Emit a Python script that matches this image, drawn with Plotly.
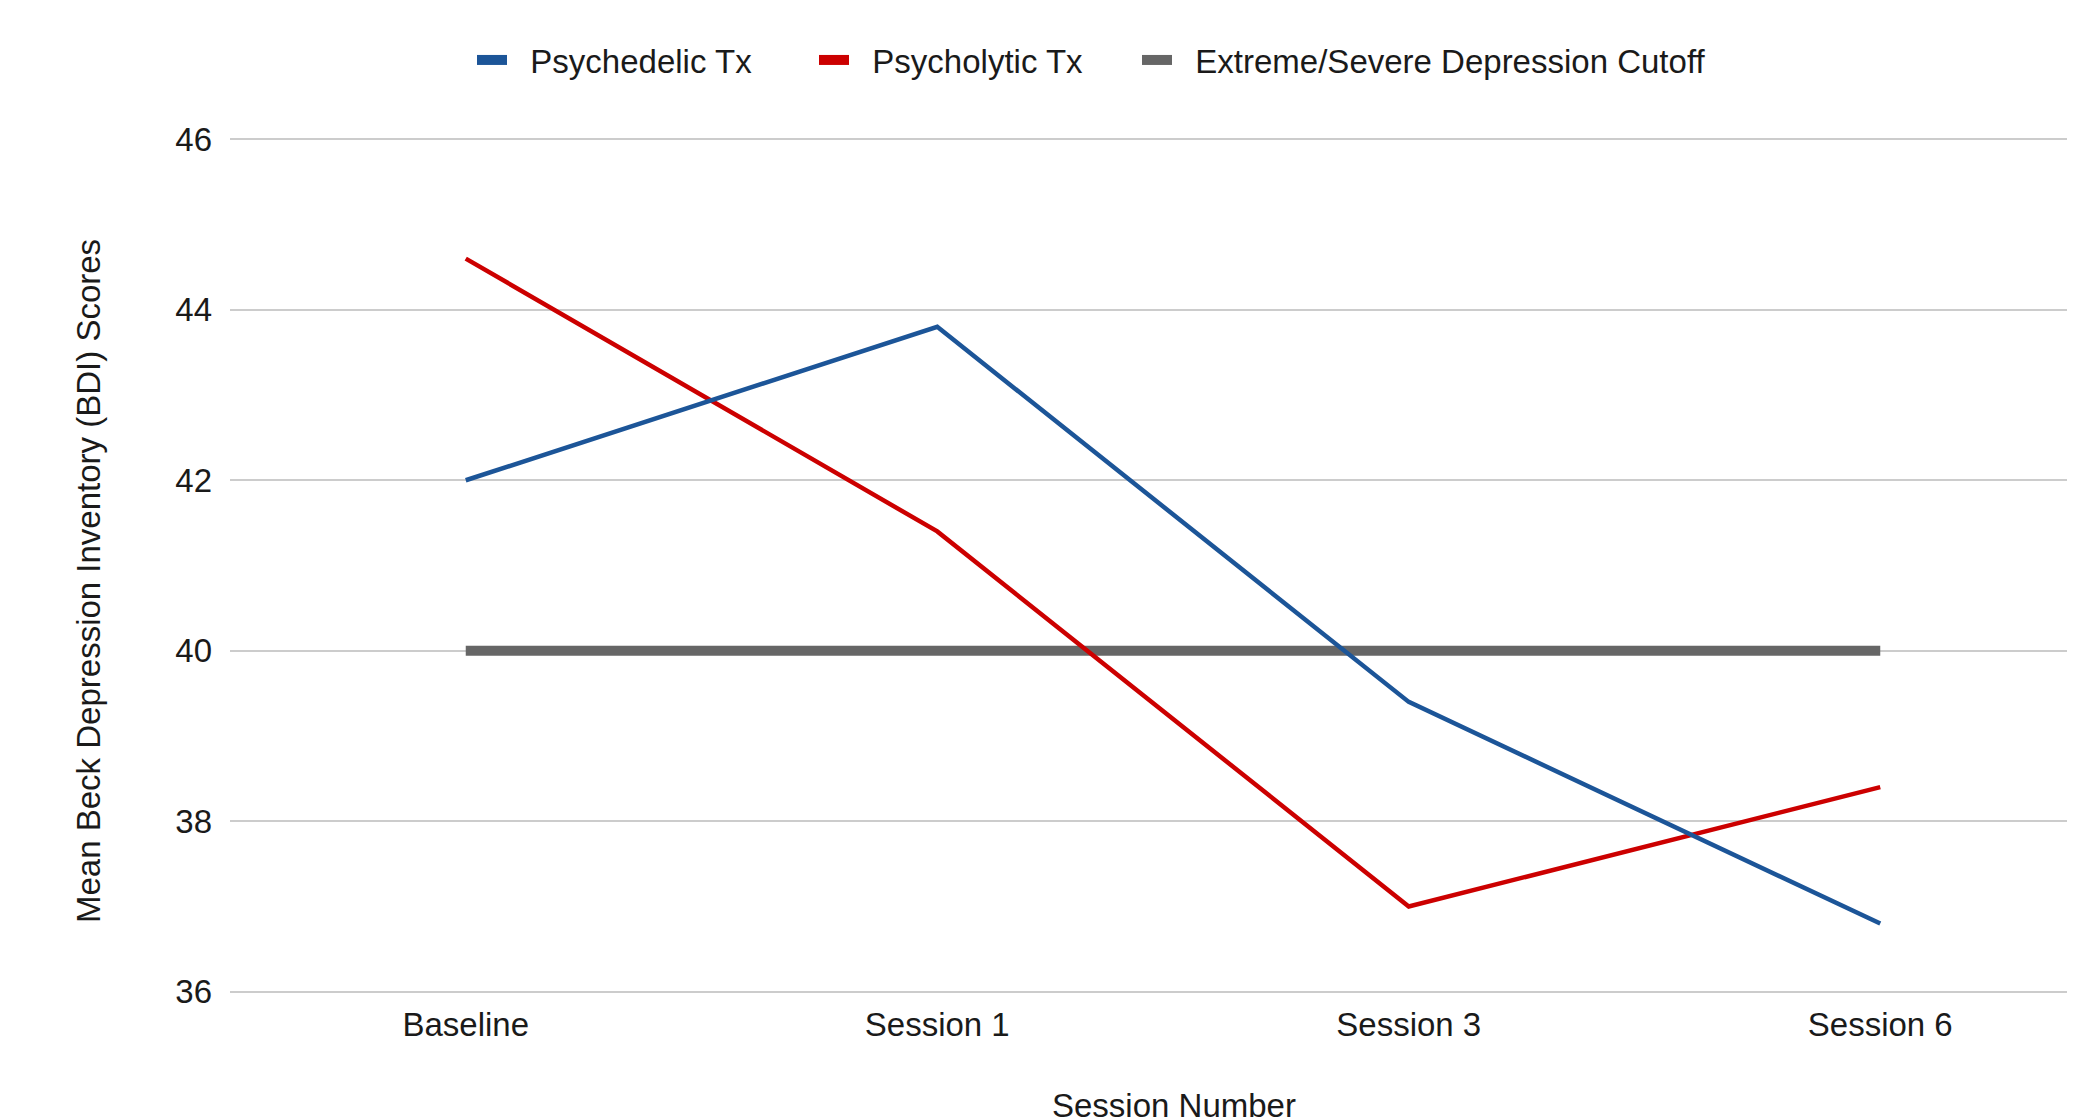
import plotly.graph_objects as go

sessions = ["Baseline", "Session 1", "Session 3", "Session 6"]
psychedelic = [42.0, 43.8, 39.4, 36.8]
psycholytic = [44.6, 41.4, 37.0, 38.4]
cutoff = [40, 40, 40, 40]
y_ticks = [36, 38, 40, 42, 44, 46]

BLUE = "#1c5598"
RED = "#cc0000"
GRAY = "#666666"
FONT = "Liberation Sans, Arial, sans-serif"
TXT = "#1a1a1a"
W, H = 2075, 1117

fig = go.Figure()
fig.add_trace(go.Scatter(x=sessions, y=cutoff, mode="lines", name="Extreme/Severe Depression Cutoff",
                         line=dict(color=GRAY, width=10), showlegend=False))
fig.add_trace(go.Scatter(x=sessions, y=psycholytic, mode="lines", name="Psycholytic Tx",
                         line=dict(color=RED, width=4.5), showlegend=False))
fig.add_trace(go.Scatter(x=sessions, y=psychedelic, mode="lines", name="Psychedelic Tx",
                         line=dict(color=BLUE, width=4.5), showlegend=False))

# legend entries (thick short swatches), each in its own legend for placement
pad = "\u00a0\u00a0"
legend_items = [("Psychedelic Tx", BLUE, "legend", 464),
                ("Psycholytic Tx", RED, "legend2", 806),
                ("Extreme/Severe Depression Cutoff", GRAY, "legend3", 1129)]
legend_layouts = {}
for name, color, lg, xpx in legend_items:
    fig.add_trace(go.Scatter(x=[None], y=[None], mode="lines", name=pad + name,
                             line=dict(color=color, width=10), showlegend=True, legend=lg))
    legend_layouts[lg] = dict(orientation="h", xref="container", yref="container",
                              x=xpx / W, xanchor="left", y=1 - 52 / H, yanchor="middle",
                              font=dict(family=FONT, size=33, color=TXT),
                              bgcolor="rgba(0,0,0,0)")

fig.update_layout(
    width=W, height=H,
    paper_bgcolor="white", plot_bgcolor="white",
    font=dict(family=FONT, size=33, color=TXT),
    margin=dict(l=222, r=0, t=130, b=132),
    xaxis=dict(type="category", range=[-0.5, 3.43], showgrid=False, zeroline=False,
               showline=False, ticks="", ticklabelstandoff=9),
    yaxis=dict(range=[35.985, 46.015], tickvals=y_ticks, showgrid=True, gridcolor="#cccccc",
               gridwidth=2, zeroline=False, showline=False, ticks="", ticklabelstandoff=17),
    annotations=[
        dict(text="Session Number", xref="paper", yref="paper", showarrow=False,
             x=(1166 - 222) / (W - 222), xanchor="center",
             y=-(1097 - (H - 132)) / (H - 130 - 132), yanchor="middle",
             font=dict(family=FONT, size=33, color=TXT)),
        dict(text="Mean Beck Depression Inventory (BDI) Scores", xref="paper", yref="paper",
             showarrow=False, textangle=-90,
             x=-(222 - 80) / (W - 222), xanchor="center",
             y=1 - (573 - 130) / (H - 130 - 132), yanchor="middle",
             font=dict(family=FONT, size=33, color=TXT)),
    ],
    **legend_layouts,
)

fig.write_html("out.html")
